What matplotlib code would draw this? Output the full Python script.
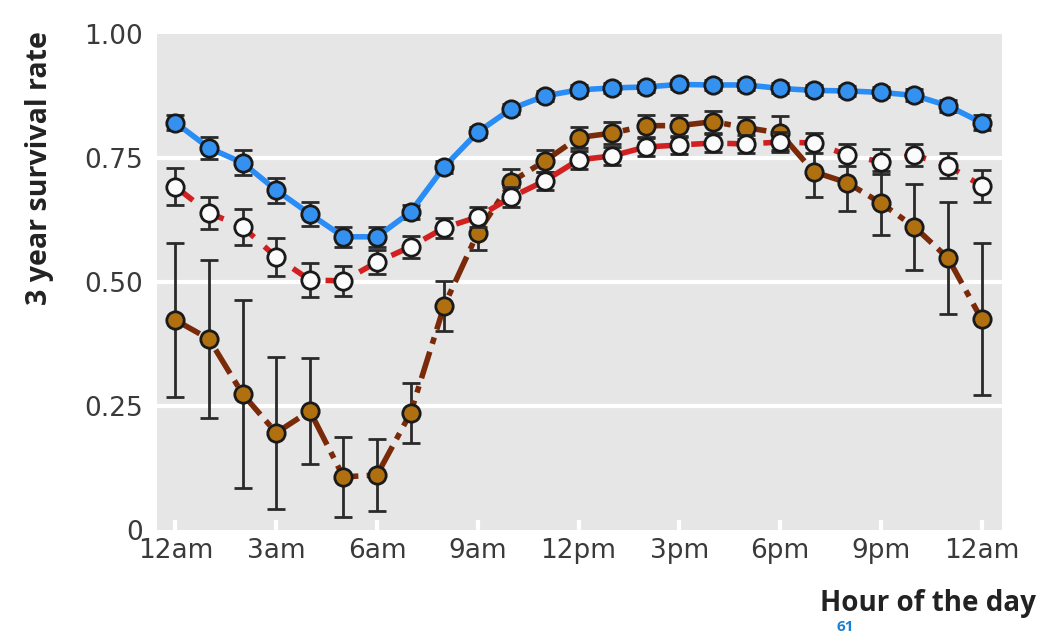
import matplotlib
matplotlib.use("Agg")
import matplotlib.pyplot as plt

hours = list(range(25))
tick_hours = [0, 3, 6, 9, 12, 15, 18, 21, 24]
tick_labels = ["12am", "3am", "6am", "9am", "12pm", "3pm", "6pm", "9pm", "12am"]
y_ticks = [0, 0.25, 0.5, 0.75, 1.0]
y_labels = ["0", "0.25", "0.50", "0.75", "1.00"]

blue = [0.821, 0.770, 0.740, 0.685, 0.637, 0.591, 0.591, 0.641, 0.732, 0.802, 0.849,
        0.875, 0.887, 0.891, 0.893, 0.898, 0.897, 0.897, 0.890, 0.886, 0.885, 0.882,
        0.876, 0.855, 0.821]
blue_err = [0.015, 0.022, 0.025, 0.025, 0.025, 0.02, 0.02, 0.015, 0.012, 0.01, 0.01,
            0.01, 0.01, 0.01, 0.01, 0.01, 0.01, 0.01, 0.01, 0.01, 0.01, 0.01,
            0.012, 0.012, 0.015]

white = [0.692, 0.639, 0.611, 0.550, 0.504, 0.502, 0.540, 0.571, 0.609, 0.631, 0.671,
         0.704, 0.746, 0.754, 0.772, 0.776, 0.780, 0.778, 0.782, 0.780, 0.756, 0.742,
         0.756, 0.734, 0.694]
white_err = [0.037, 0.033, 0.036, 0.038, 0.035, 0.030, 0.025, 0.022, 0.02, 0.02, 0.02,
             0.018, 0.018, 0.018, 0.018, 0.018, 0.018, 0.018, 0.02, 0.02, 0.022, 0.025,
             0.022, 0.025, 0.032]

brown = [0.423, 0.385, 0.274, 0.196, 0.240, 0.107, 0.111, 0.236, 0.452, 0.599, 0.702,
         0.744, 0.791, 0.800, 0.815, 0.815, 0.823, 0.811, 0.800, 0.722, 0.700, 0.659,
         0.611, 0.548, 0.425]
brown_err = [0.155, 0.16, 0.19, 0.153, 0.107, 0.08, 0.073, 0.06, 0.05, 0.035, 0.025,
             0.022, 0.022, 0.022, 0.022, 0.022, 0.022, 0.022, 0.035, 0.05, 0.058, 0.064,
             0.086, 0.113, 0.153]

plt.rcParams['font.family'] = ['Open Sans', 'DejaVu Sans']

fig = plt.figure(figsize=(10.37, 6.34), dpi=100)
ax = fig.add_axes([0.1514, 0.164, 0.8146, 0.7826])
ax.set_facecolor("#e6e6e6")
for s in ax.spines.values():
    s.set_visible(False)

for yv in [0.25, 0.5, 0.75]:
    ax.axhline(yv, color="white", lw=3, zorder=1)

ebkw = dict(ecolor="#2a2a2a", elinewidth=2, capsize=6.5, capthick=2)
mk = dict(marker="o", markersize=12.5, markeredgecolor="#1a1a1a", markeredgewidth=2)

# brown series
ax.errorbar(hours, brown, yerr=brown_err, fmt="none", zorder=3, **ebkw)
ax.plot(hours, brown, color="#7a2a08", lw=4, linestyle=(0, (5, 1.5, 1.2, 1.5)), zorder=4)
ax.plot(hours, brown, linestyle="none", markerfacecolor="#b0700f", zorder=5, **mk)

# white series
ax.errorbar(hours, white, yerr=white_err, fmt="none", zorder=6, **ebkw)
ax.plot(hours, white, color="#d21f1f", lw=4, linestyle=(0, (4, 2.5)), zorder=7)
ax.plot(hours, white, linestyle="none", markerfacecolor="#fbfbfb", zorder=8, **mk)

# blue series
ax.errorbar(hours, blue, yerr=blue_err, fmt="none", zorder=9, **ebkw)
ax.plot(hours, blue, color="#2a8cf5", lw=4, zorder=10)
ax.plot(hours, blue, linestyle="none", markerfacecolor="#3591f0", zorder=11, **mk)

ax.set_xlim(-0.55, 24.6)
ax.set_ylim(0, 1.0)
ax.set_xticks(tick_hours)
ax.set_xticklabels(tick_labels, fontsize=19, color="#3a3a3a", family="DejaVu Sans")
ax.set_yticks(y_ticks)
ax.set_yticklabels(y_labels, fontsize=19, color="#3a3a3a", family="DejaVu Sans")
ax.tick_params(axis="x", direction="in", length=7, width=3, color="white", pad=6)
ax.tick_params(axis="y", length=0, pad=10)

fig.text(0.038, 0.735, "3 year survival rate", rotation=90, fontsize=20.5,
         fontweight="bold", color="#222222", ha="center", va="center")
fig.text(0.999, 0.048, "Hour of the day", fontsize=20, fontweight="bold",
         color="#222222", ha="right", va="center")
fig.text(0.815, 0.0, "61", fontsize=11, fontweight="bold", color="#1a7fd0",
         ha="center", va="bottom")

fig.savefig("out.png", dpi=100)
